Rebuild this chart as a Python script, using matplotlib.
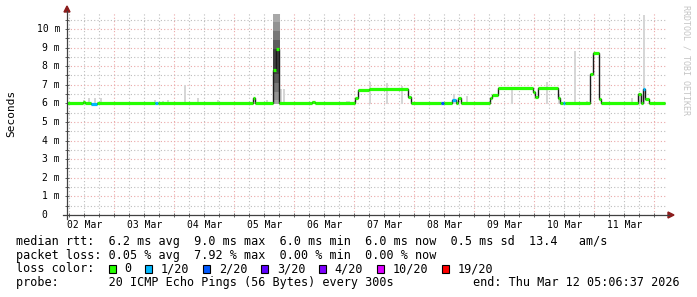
import matplotlib
matplotlib.use("Agg")
import matplotlib.pyplot as plt
import matplotlib.dates as mdates
from matplotlib.patches import Rectangle, Polygon
from matplotlib.lines import Line2D
from matplotlib.transforms import blended_transform_factory
from datetime import datetime, timedelta
import numpy as np

W, H = 697, 297
START = datetime(2026, 3, 2, 5, 6, 37)
END = datetime(2026, 3, 12, 5, 6, 37)

# ---- data: median rtt segments (hours since START, ms, loss index) ----
seg_start_h = [0.0, 6.4, 7.2, 9.6, 12.0, 35.2, 36.4, 74.4, 75.2, 82.4, 83.6, 84.8,
               98.0, 99.2, 115.2, 116.4, 120.8, 136.4, 137.6, 149.6, 150.8, 154.0,
               155.6, 156.4, 157.6, 169.2, 170.0, 172.4, 186.4, 187.2, 188.4, 196.4,
               197.2, 198.4, 199.2, 209.2, 210.4, 212.8, 213.6, 228.4, 229.6, 230.4,
               231.2, 232.8]
seg_end_h = seg_start_h[1:] + [239.2]
seg_ms = [6.00, 6.05, 6.00, 5.97, 6.00, 6.00, 6.00, 6.31, 6.00, 7.80, 8.92, 6.00,
          6.07, 6.00, 6.27, 6.72, 6.78, 6.36, 6.00, 6.00, 6.00, 6.18,
          6.00, 6.30, 6.00, 6.27, 6.47, 6.81, 6.60, 6.33, 6.82, 6.28,
          6.00, 6.00, 6.00, 7.58, 8.70, 6.22, 6.00, 6.50, 6.00, 6.77,
          6.24, 6.00]
seg_loss = [0, 0, 0, 1, 0, 1, 0, 0, 0, 0, 0, 0,
            0, 0, 0, 0, 0, 0, 0, 2, 0, 1,
            0, 0, 0, 0, 0, 0, 0, 0, 0, 0,
            0, 1, 0, 0, 0, 0, 0, 0, 0, 1,
            0, 0]

loss_labels = ["0", "1/20", "2/20", "3/20", "4/20", "10/20", "19/20"]
loss_colors = ["#26ff00", "#00b8ff", "#0059ff", "#5e00ff", "#7e00ff", "#dd00ff", "#ff0000"]

# ---- data: smoke (highest ping of a bin), hours since START, ms ----
smoke_h = [0.8, 6.8, 8.8, 11.2, 13.6, 18.0, 27.2, 28.4, 35.2, 38.4, 40.4, 47.2,
           52.4, 60.4, 80.0, 85.6, 86.8, 98.4, 112.0, 112.8, 121.2, 128.0, 134.0,
           142.0, 154.8, 160.0, 178.0, 192.0, 196.8, 203.2, 204.8, 208.0, 220.0,
           223.2, 226.0, 229.2, 230.8, 238.0]
smoke_top_ms = [6.10, 6.20, 6.27, 6.27, 6.30, 6.10, 6.10, 6.10, 6.20, 6.12, 6.20, 7.00,
                6.30, 6.20, 6.20, 6.80, 6.80, 6.15, 6.15, 6.15, 7.15, 7.10, 6.95,
                6.10, 6.50, 6.40, 6.87, 7.17, 6.50, 8.80, 6.10, 6.15, 6.10,
                6.10, 6.30, 6.50, 10.75, 6.10]

# dense smoke of the 05 Mar burst (ping spread bands, outer to inner)
burst_start_h, burst_end_h = 82.2, 85.0
burst_lo_ms = [5.95, 6.20, 6.60, 7.10, 7.60]
burst_hi_ms = [10.80, 10.40, 9.90, 9.40, 8.90]
burst_grays = ["#a8a8a8", "#929292", "#787878", "#5c5c5c", "#404040"]

y_ticks = list(range(0, 11))
y_labels = ["0  "] + [f"{v} m" for v in range(1, 11)]
day_labels = ["02 Mar", "03 Mar", "04 Mar", "05 Mar", "06 Mar", "07 Mar",
              "08 Mar", "09 Mar", "10 Mar", "11 Mar"]

legend_rows = [
    "median rtt:  6.2 ms avg  9.0 ms max  6.0 ms min  6.0 ms now  0.5 ms sd  13.4   am/s",
    "packet loss: 0.05 % avg  7.92 % max  0.00 % min  0.00 % now",
    "loss color:",
    "probe:       20 ICMP Echo Pings (56 Bytes) every 300s",
]
end_text = "end: Thu Mar 12 05:06:37 2026"


def t(h):
    return mdates.date2num(START + timedelta(hours=h))


def fx(x):
    return x / W


def fy(y):
    return 1 - y / H


MONO = "DejaVu Sans Mono"
fig = plt.figure(figsize=(W / 100, H / 100), dpi=100)
fig.patch.set_facecolor("white")
ax = fig.add_axes([fx(67), fy(215), 600 / W, 202 / H])
ax.set_facecolor("white")
ax.xaxis_date()
ax.set_xlim(mdates.date2num(START), mdates.date2num(END))
ax.set_ylim(0, 10.86)

ax.xaxis.set_major_locator(mdates.DayLocator())
ax.xaxis.set_minor_locator(mdates.HourLocator(byhour=[0, 6, 12, 18]))
ax.set_yticks(y_ticks)
ax.set_yticks(np.arange(0.5, 10.9, 1.0), minor=True)
ax.grid(which="major", color="#eaa8a8", linestyle=(0, (1, 2)), linewidth=0.8)
ax.grid(which="minor", color="#bdbdbd", linestyle=(0, (1, 2)), linewidth=0.8)
ax.set_axisbelow(True)
ax.tick_params(which="both", direction="inout", length=3, width=0.7, color="#606060",
               labelleft=False, labelbottom=False)
for s in ax.spines.values():
    s.set_visible(False)

# smoke
hour = 1 / 24
ax.bar([t(h) for h in smoke_h], [v - 5.95 for v in smoke_top_ms], bottom=5.95,
       width=hour, color="#d6d6d6", linewidth=0, align="center", zorder=2)
for lo, hi, g in zip(burst_lo_ms, burst_hi_ms, burst_grays):
    ax.bar(t(burst_start_h), hi - lo, bottom=lo, width=t(burst_end_h) - t(burst_start_h),
           color=g, linewidth=0, align="edge", zorder=2)

# median: black step line plus loss-coloured bands
edges = [t(h) for h in seg_start_h] + [t(seg_end_h[-1])]
ax.stairs(seg_ms, edges, baseline=None, color="#1a1a1a", linewidth=1.0, zorder=3)
ax.hlines(seg_ms, [t(h) for h in seg_start_h], [t(h) for h in seg_end_h],
          colors=[loss_colors[i] for i in seg_loss], linewidth=2.3, zorder=4,
          capstyle="butt")

# axes lines and arrows
axis_col = "#404040"
arrow_col = "#8b1c1c"
fig.add_artist(Line2D([fx(67), fx(67)], [fy(219), fy(11)], color=axis_col, lw=0.9))
fig.add_artist(Line2D([fx(63), fx(669)], [fy(215), fy(215)], color=axis_col, lw=0.9))
fig.add_artist(Polygon([[fx(64), fy(12)], [fx(70), fy(12)], [fx(67), fy(6)]],
                       closed=True, color=arrow_col, transform=fig.transFigure))
fig.add_artist(Polygon([[fx(668), fy(212)], [fx(668), fy(218)], [fx(674), fy(215)]],
                       closed=True, color=arrow_col, transform=fig.transFigure))

# y labels
ytr = blended_transform_factory(fig.transFigure, ax.transData)
for v, lab in zip(y_ticks, y_labels):
    fig.text(fx(60), v, lab, transform=ytr, ha="right", va="center",
             fontsize=7, family=MONO, color="#000000")

# x labels at noon
xtr = blended_transform_factory(ax.transData, fig.transFigure)
for i, lab in enumerate(day_labels):
    noon = mdates.date2num(datetime(2026, 3, 2, 12) + timedelta(days=i))
    fig.text(noon, fy(225), lab, transform=xtr, ha="center", va="center",
             fontsize=7, family=MONO)

fig.text(fx(11.5), fy(113), "Seconds", rotation=90, ha="center", va="center",
         fontsize=8, family=MONO)
fig.text(fx(686), fy(60), "RRDTOOL / TOBI OETIKER", rotation=270, ha="center",
         va="center", fontsize=6, family=MONO, color="#c4c4c4")

# legend
row_y = [241.7, 255.2, 268.9, 282.7]
FS = 8.45
for y, txt in zip(row_y, legend_rows):
    fig.text(fx(16), fy(y), txt, ha="left", va="center", fontsize=FS, family=MONO)
fig.text(fx(680), fy(row_y[3]), end_text, ha="right", va="center", fontsize=FS, family=MONO)

cw = 7.07
sx = 108.7
for lab, col in zip(loss_labels, loss_colors):
    fig.add_artist(Rectangle((fx(sx), fy(273)), 7 / W, 8 / H, transform=fig.transFigure,
                             facecolor=col, edgecolor="black", linewidth=0.8))
    lx = sx + 15.5
    fig.text(fx(lx), fy(row_y[2]), lab, ha="left", va="center", fontsize=FS, family=MONO)
    sx = lx + (len(lab) + 2) * cw

fig.savefig("out.png", dpi=100, facecolor="white")
